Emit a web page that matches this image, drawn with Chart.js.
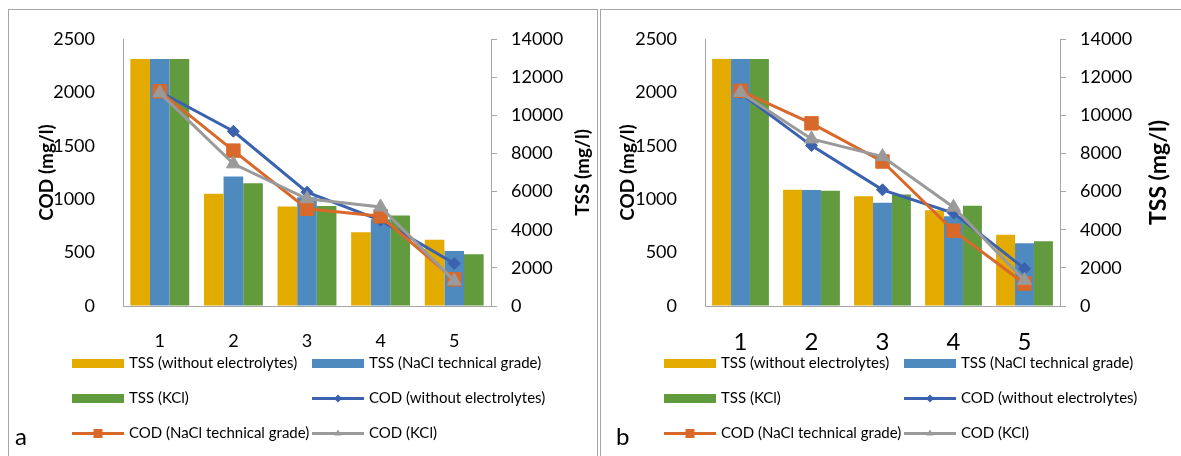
<!DOCTYPE html>
<html lang="en">
<head>
  <meta charset="UTF-8" />
  <title>TSS and COD</title>
  <script src="https://cdn.jsdelivr.net/npm/chart.js"></script>
  <style>
    body {
      margin: 0;
      background: #ffffff;
      width: 1181px;
      height: 456px;
      overflow: hidden;
      position: relative;
    }
    .frame {
      position: absolute;
      border: 1px solid #a6a6a6;
    }
    #frameA { left: 8px; top: 9px; width: 588px; height: 500px; }
    #frameB { left: 600px; top: 9px; width: 600px; height: 500px; }
    canvas { position: absolute; top: 0; }
    #chartA { left: 0; }
    #chartB { left: 600px; }
  </style>
</head>
<body>
  <div class="frame" id="frameA"></div>
  <div class="frame" id="frameB"></div>
  <canvas id="chartA" width="598" height="456"></canvas>
  <canvas id="chartB" width="581" height="456"></canvas>

  <script>
    // eixo x e nomes das series
    const categories = ['1', '2', '3', '4', '5'];
    const seriesNames = [
      'TSS (without electrolytes)',
      'TSS (NaCl technical grade)',
      'TSS (KCl)',
      'COD (without electrolytes)',
      'COD (NaCl technical grade)',
      'COD (KCl)'
    ];

    // faixas dos eixos
    const codMax = 2500, codStep = 500;
    const tssMax = 14000, tssStep = 2000;

    // painel a
    const tssSemA  = [12950, 5890, 5220, 3870, 3480];
    const tssNaclA = [12950, 6790, 5700, 4550, 2890];
    const tssKclA  = [12950, 6440, 5250, 4740, 2720];
    const codSemA  = [2006, 1636, 1066, 802, 398];
    const codNaclA = [2010, 1455, 911, 840, 250];
    const codKclA  = [1995, 1331, 1004, 927, 235];

    // painel b
    const tssSemB  = [12950, 6090, 5760, 5020, 3730];
    const tssNaclB = [12950, 6080, 5420, 4700, 3290];
    const tssKclB  = [12950, 6040, 5850, 5260, 3400];
    const codSemB  = [1995, 1502, 1088, 870, 350];
    const codNaclB = [2015, 1710, 1353, 705, 210];
    const codKclB  = [2000, 1564, 1399, 925, 240];

    const cores = ['#E3AA00', '#4F8ABF', '#619B3E', '#3A62AE', '#D8692A', '#9A9A9A'];
    const estilos = [null, null, null, 'rectRot', 'rect', 'triangle'];
    const fonte = 'Lato, "Open Sans", sans-serif';

    Chart.defaults.font.family = fonte;
    Chart.defaults.color = '#000';

    function desenharMarcador(c, estilo, x, y, r) {
      c.beginPath();
      if (estilo === 'rectRot') {
        c.moveTo(x, y - r); c.lineTo(x + r, y); c.lineTo(x, y + r); c.lineTo(x - r, y);
      } else if (estilo === 'rect') {
        c.rect(x - r, y - r, 2 * r, 2 * r);
      } else {
        c.moveTo(x, y - r); c.lineTo(x + r * 0.87, y + r / 2); c.lineTo(x - r * 0.87, y + r / 2);
      }
      c.closePath();
      c.fill();
    }

    // titulo da direita, legenda e letra do painel
    const extras = {
      id: 'extras',
      afterDraw(chart, args, lay) {
        const c = chart.ctx;
        const area = chart.chartArea;
        c.save();

        c.fillStyle = '#000';
        c.font = 'bold ' + lay.rightTitleSize + 'px ' + fonte;
        c.textAlign = 'center';
        c.textBaseline = 'middle';
        c.translate(lay.rightTitleX, (area.top + area.bottom) / 2);
        c.rotate(-Math.PI / 2);
        c.fillText('TSS (mg/l)', 0, 0);
        c.setTransform(1, 0, 0, 1, 0, 0);

        chart.data.datasets.forEach((ds, i) => {
          const x = lay.legendCols[i % 2];
          const y = lay.legendRows[Math.floor(i / 2)];
          c.fillStyle = cores[i];
          c.strokeStyle = cores[i];
          if (!estilos[i]) {
            c.fillRect(x, y - 4.5, 52, 9);
          } else {
            c.lineWidth = 3;
            c.beginPath();
            c.moveTo(x, y);
            c.lineTo(x + 52, y);
            c.stroke();
            desenharMarcador(c, estilos[i], x + 26, y, estilos[i] === 'rect' ? 4.5 : 4);
          }
          c.fillStyle = '#000';
          c.font = '15px ' + fonte;
          c.textAlign = 'left';
          c.textBaseline = 'middle';
          c.fillText(ds.label, x + 57, y);
        });

        c.font = '24px ' + fonte;
        c.textBaseline = 'alphabetic';
        c.fillText(lay.letter, lay.letterX, 445);
        c.restore();
      }
    };

    function barra(i, dados) {
      return {
        type: 'bar', label: seriesNames[i], data: dados, yAxisID: 'y1',
        backgroundColor: cores[i], borderWidth: 0,
        barPercentage: 1, categoryPercentage: 0.8, order: 10
      };
    }

    function linha(i, dados, raio, ordem) {
      return {
        type: 'line', label: seriesNames[i], data: dados, yAxisID: 'y',
        borderColor: cores[i], backgroundColor: cores[i], borderWidth: 3, tension: 0,
        pointStyle: estilos[i], pointRadius: raio, pointBorderWidth: 1,
        pointBorderColor: cores[i], pointBackgroundColor: cores[i], order: ordem
      };
    }

    function criarPainel(id, series, lay) {
      new Chart(document.getElementById(id), {
        type: 'bar',
        data: {
          labels: categories,
          datasets: [
            barra(0, series[0]), barra(1, series[1]), barra(2, series[2]),
            linha(3, series[3], 6, 3), linha(4, series[4], 9.5, 2), linha(5, series[5], 8, 1)
          ]
        },
        options: {
          responsive: false,
          animation: false,
          layout: { padding: { top: 39, left: 0, right: 0, bottom: 0 } },
          plugins: { legend: { display: false }, tooltip: { enabled: false }, extras: lay },
          scales: {
            x: {
              grid: { display: false },
              border: { display: true, color: '#a6a6a6' },
              ticks: { font: { size: lay.xFont }, padding: lay.xPad },
              afterFit: s => { s.height = 456 - 306; }
            },
            y: {
              position: 'left', min: 0, max: codMax,
              grid: { display: false },
              border: { display: true, color: '#a6a6a6' },
              ticks: { stepSize: codStep, font: { size: 18 }, padding: 20, callback: v => String(v) },
              title: { display: true, text: 'COD (mg/l)', font: { size: 19, weight: 'bold' }, padding: { top: lay.leftTitlePad, bottom: 0 } },
              afterFit: s => { s.width = lay.leftW; }
            },
            y1: {
              position: 'right', min: 0, max: tssMax,
              grid: { display: true, drawOnChartArea: false, drawTicks: true, tickLength: 6, color: '#a6a6a6' },
              border: { display: true, color: '#a6a6a6' },
              ticks: { stepSize: tssStep, font: { size: 18 }, padding: 14, callback: v => String(v) },
              afterFit: s => { s.width = lay.rightW; }
            }
          }
        },
        plugins: [extras]
      });
    }

    criarPainel('chartA', [tssSemA, tssNaclA, tssKclA, codSemA, codNaclA, codKclA], {
      leftW: 123, rightW: 107, xFont: 18, xPad: 16, leftTitlePad: 35,
      rightTitleX: 583, rightTitleSize: 19,
      legendCols: [72, 312], legendRows: [363.5, 398.5, 433.5],
      letter: 'a', letterX: 15
    });

    criarPainel('chartB', [tssSemB, tssNaclB, tssKclB, codSemB, codNaclB, codKclB], {
      leftW: 105, rightW: 121, xFont: 24, xPad: 14, leftTitlePad: 16,
      rightTitleX: 559, rightTitleSize: 23,
      legendCols: [64, 304], legendRows: [363.5, 398.5, 433.5],
      letter: 'b', letterX: 16
    });
  </script>
</body>
</html>
